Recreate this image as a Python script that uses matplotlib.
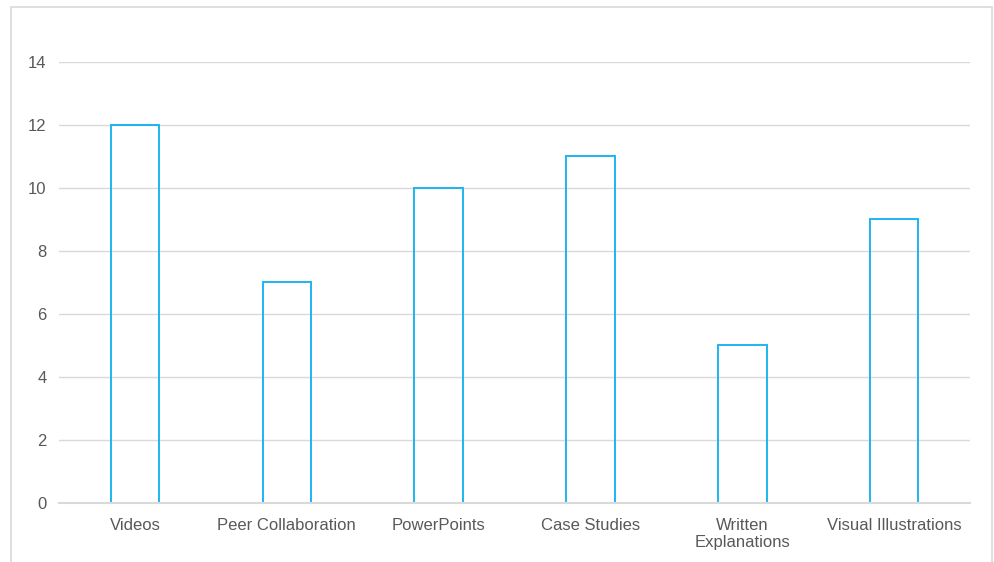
import matplotlib.pyplot as plt
from matplotlib.patches import Rectangle

categories = ['Videos', 'Peer Collaboration', 'PowerPoints', 'Case Studies',
              'Written\nExplanations', 'Visual Illustrations']
counts = [12, 7, 10, 11, 5, 9]

plt.rcParams['font.family'] = ['Liberation Sans', 'DejaVu Sans']

fig = plt.figure(figsize=(9.94, 5.62), dpi=100)
ax = fig.add_axes([0.0594, 0.105, 0.9165, 0.785])

# outer chart border
fig.patches.append(Rectangle((11 / 994, -0.05), 981 / 994, 1 - 7 / 562 + 0.05,
                             transform=fig.transFigure, fill=False,
                             edgecolor='#d9d9d9', linewidth=1.2))

x = range(len(categories))
ax.bar(x, counts, width=0.32, facecolor='none', edgecolor='#1cb5f0',
       linewidth=1.4, zorder=3)

ax.set_xlim(-0.5, len(categories) - 0.5)
ax.set_ylim(0, 14)
ax.set_yticks(range(0, 15, 2))
ax.set_xticks(list(x))
ax.set_xticklabels(categories)
ax.yaxis.grid(True, color='#d9d9d9', linewidth=1.0)
ax.set_axisbelow(True)
for s in ['top', 'right', 'left']:
    ax.spines[s].set_visible(False)
ax.spines['bottom'].set_color('#d9d9d9')
ax.spines['bottom'].set_linewidth(1.5)
ax.spines['bottom'].set_zorder(4)
ax.tick_params(axis='both', length=0, labelsize=12, colors='#595959')
ax.tick_params(axis='x', pad=10.5)
ax.tick_params(axis='y', pad=9)

plt.savefig('out.png', dpi=100)
